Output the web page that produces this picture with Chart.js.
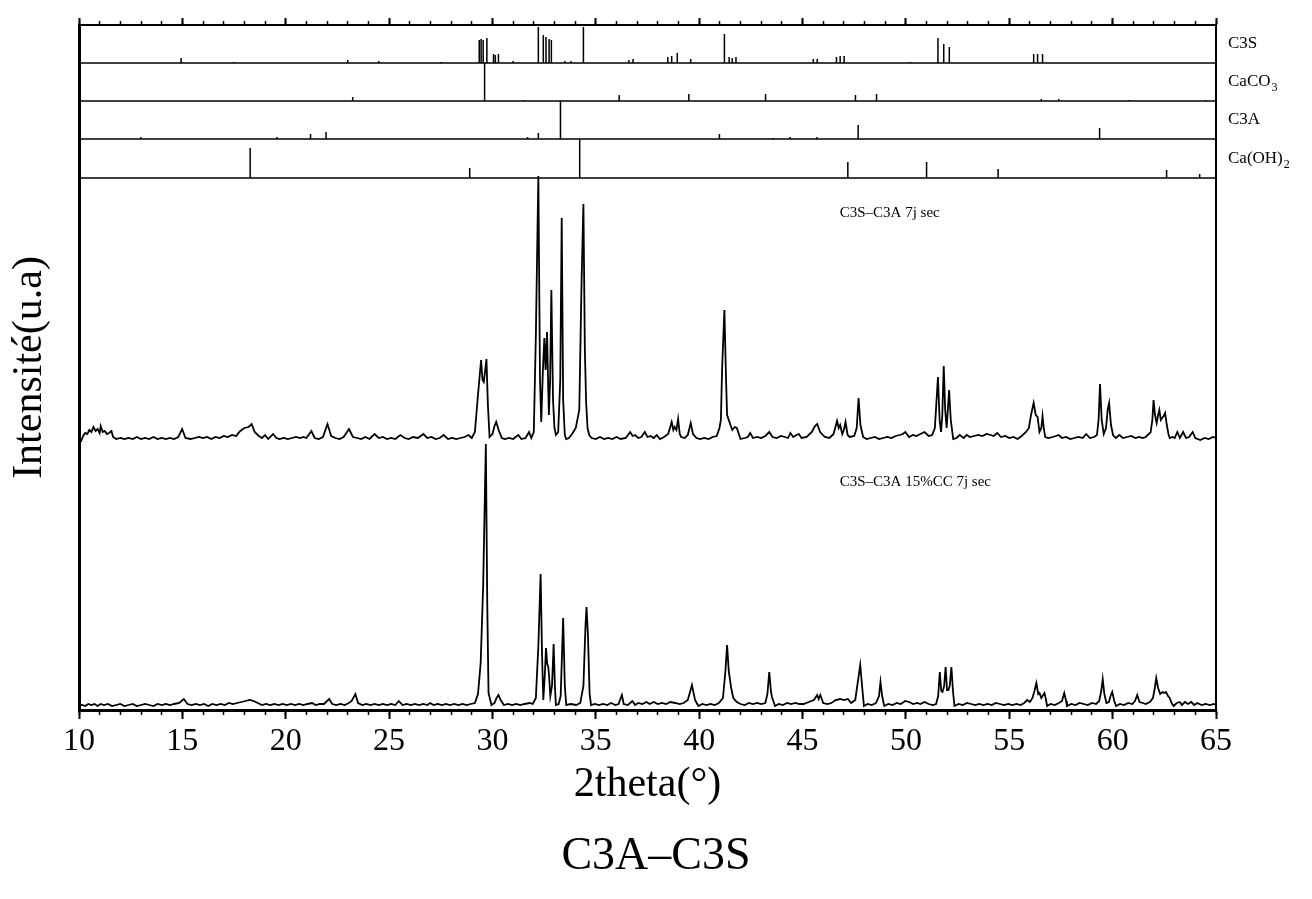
<!DOCTYPE html>
<html>
<head>
<meta charset="utf-8">
<title>C3A–C3S</title>
<script src="https://cdn.jsdelivr.net/npm/chart.js@4.4.1/dist/chart.umd.min.js"></script>
<style>
  html, body { margin: 0; padding: 0; background: #fff; }
  #wrap { width: 1312px; height: 899px; }
</style>
</head>
<body>
<div id="wrap"><canvas id="xrd" width="1312" height="899"></canvas></div>
<script>
// xrd.js -- diffractogrammes C3S-C3A (7j sec) avec fiches de reference

// 2theta range and tick steps
const thetaRange = [10, 65];
const majorStep = 5;
const minorStep = 1;

// C3S-C3A 7j sec (upper pattern), intensity above its own baseline
const topTheta = [
  10.0,10.1,10.2,10.3,10.4,10.5,10.6,10.7,10.8,10.9,
  11.0,11.05,11.15,11.25,11.35,11.45,11.57,11.65,11.8,12.0,
  12.2,12.4,12.6,12.8,13.0,13.2,13.4,13.6,13.8,14.0,
  14.2,14.4,14.6,14.8,14.99,15.15,15.4,15.6,15.8,16.0,
  16.2,16.4,16.6,16.8,17.0,17.2,17.4,17.6,17.8,18.0,
  18.2,18.35,18.5,18.7,18.85,19.0,19.15,19.39,19.55,19.7,
  19.9,20.1,20.3,20.5,20.7,20.85,21.0,21.24,21.4,21.6,
  21.8,22.02,22.2,22.4,22.6,22.8,23.06,23.25,23.45,23.65,
  23.85,24.05,24.3,24.5,24.7,24.9,25.1,25.3,25.54,25.75,
  25.95,26.15,26.4,26.66,26.85,27.05,27.25,27.45,27.64,27.85,
  28.05,28.25,28.45,28.65,28.84,29.0,29.15,29.3,29.45,29.52,
  29.58,29.65,29.71,29.78,29.86,30.0,30.1,30.18,30.3,30.45,
  30.6,30.8,31.0,31.25,31.4,31.6,31.77,31.88,32.0,32.1,
  32.22,32.3,32.36,32.44,32.51,32.57,32.64,32.7,32.73,32.79,
  32.85,32.93,33.0,33.07,33.18,33.28,33.35,33.42,33.5,33.57,
  33.7,33.85,34.03,34.2,34.31,34.4,34.47,34.53,34.6,34.68,
  34.8,35.0,35.2,35.4,35.6,35.8,36.0,36.2,36.45,36.66,
  36.78,36.9,37.05,37.2,37.37,37.5,37.65,37.8,37.95,38.1,
  38.3,38.5,38.67,38.75,38.81,38.9,38.98,39.06,39.13,39.3,
  39.45,39.59,39.7,39.87,40.05,40.25,40.45,40.65,40.85,40.98,
  41.05,41.11,41.22,41.3,41.35,41.48,41.6,41.72,41.82,42.0,
  42.2,42.35,42.47,42.6,42.8,43.0,43.2,43.39,43.55,43.75,
  43.95,44.15,44.3,44.41,44.55,44.7,44.82,44.95,45.2,45.45,
  45.6,45.71,45.85,46.08,46.3,46.5,46.67,46.75,46.82,46.92,
  47.0,47.08,47.18,47.28,47.5,47.62,47.71,47.8,47.93,48.1,
  48.3,48.5,48.7,48.9,49.1,49.3,49.5,49.7,49.85,49.97,
  50.15,50.34,50.5,50.7,50.9,51.1,51.27,51.4,51.55,51.63,
  51.7,51.76,51.83,51.9,51.97,52.09,52.17,52.29,52.45,52.6,
  52.8,52.94,53.1,53.3,53.5,53.7,53.9,54.1,54.25,54.42,
  54.6,54.8,55.0,55.2,55.4,55.6,55.81,55.95,56.05,56.18,
  56.28,56.37,56.46,56.55,56.61,56.68,56.74,56.9,57.1,57.25,
  57.39,57.55,57.75,57.95,58.15,58.35,58.55,58.72,58.9,59.1,
  59.24,59.32,59.39,59.47,59.57,59.68,59.76,59.83,59.92,60.02,
  60.15,60.32,60.5,60.7,60.9,61.1,61.28,61.45,61.6,61.75,
  61.84,61.92,61.98,62.05,62.13,62.2,62.26,62.33,62.39,62.47,
  62.54,62.62,62.7,62.76,62.9,63.0,63.13,63.25,63.41,63.55,
  63.7,63.87,64.0,64.24,64.45,64.65,64.85,65.0
];
const topInt = [
  0,-1,4,7,6,10,8,13,9,11,
  7,14,8,9,6,7,9,3,1,2,
  1,2,1,3,1,2,1,3,1,2,
  1,2,1,3,11,2,1,2,3,2,
  3,1,3,2,4,3,5,4,9,12,
  13,16,8,4,2,5,1,6,2,1,
  2,1,2,3,2,3,2,9,2,1,
  3,16,4,2,1,3,11,3,2,1,
  3,1,6,2,3,1,2,1,5,2,
  1,3,2,6,2,3,1,2,5,1,
  2,1,2,3,5,2,8,45,80,60,
  58,70,81,35,3,6,14,18,10,2,
  1,2,1,5,1,2,8,2,8,105,
  264,60,18,70,102,70,108,50,25,60,
  150,40,12,5,8,60,222,40,5,1,
  2,6,12,30,158,236,90,38,12,5,
  2,1,3,1,2,1,3,1,2,8,
  4,5,2,3,8,3,4,2,5,1,
  3,6,18,10,13,10,21,6,3,2,
  5,17,6,2,1,2,1,3,4,12,
  20,72,130,60,25,17,10,13,12,1,
  2,3,7,2,3,2,4,8,3,2,
  4,3,2,7,3,5,6,2,3,8,
  14,16,8,3,2,6,19,12,15,6,
  10,18,5,3,4,12,42,15,3,1,
  2,3,1,2,3,2,4,5,6,8,
  3,5,4,6,8,4,5,12,63,20,
  8,25,74,30,12,50,20,1,2,5,
  2,5,3,4,5,4,6,5,4,7,
  3,4,2,3,1,4,8,12,25,37,
  25,23,8,12,24,10,3,2,3,4,
  5,2,3,1,2,3,2,6,2,3,
  5,20,56,20,6,12,30,37,15,5,
  2,5,2,3,4,2,3,2,3,6,
  8,20,40,25,17,25,30,20,22,24,
  27,15,6,2,3,2,8,2,8,2,
  3,8,2,0,2,1,3,2
];

// C3S-C3A 15%CC 7j sec (lower pattern)
const botTheta = [
  10.0,10.15,10.3,10.45,10.6,10.75,10.9,11.05,11.2,11.4,
  11.6,11.8,12.0,12.2,12.4,12.6,12.8,13.0,13.2,13.4,
  13.6,13.8,14.0,14.2,14.4,14.6,14.85,15.07,15.25,15.45,
  15.65,15.85,16.05,16.25,16.45,16.65,16.85,17.05,17.25,17.45,
  17.65,17.85,18.05,18.25,18.45,18.65,18.85,19.05,19.25,19.45,
  19.65,19.85,20.05,20.25,20.45,20.65,20.85,21.05,21.28,21.45,
  21.65,21.85,22.1,22.25,22.45,22.65,22.85,23.05,23.19,23.37,
  23.5,23.7,23.9,24.1,24.3,24.5,24.7,24.9,25.1,25.3,
  25.47,25.65,25.85,26.05,26.25,26.45,26.65,26.85,26.99,27.15,
  27.35,27.55,27.75,27.95,28.15,28.35,28.55,28.75,28.95,29.15,
  29.3,29.43,29.55,29.68,29.75,29.81,29.95,30.1,30.2,30.29,
  30.4,30.55,30.75,30.95,31.15,31.35,31.55,31.8,31.95,32.1,
  32.22,32.33,32.4,32.46,32.53,32.59,32.65,32.7,32.74,32.8,
  32.88,32.96,33.02,33.07,33.2,33.3,33.42,33.5,33.57,33.8,
  34.05,34.25,34.4,34.5,34.55,34.62,34.7,34.77,34.95,35.15,
  35.35,35.55,35.75,35.95,36.1,36.26,36.35,36.55,36.77,36.9,
  37.05,37.25,37.45,37.6,37.8,38.0,38.2,38.4,38.6,38.85,
  39.05,39.25,39.45,39.65,39.8,39.96,40.15,40.35,40.55,40.75,
  40.95,41.15,41.27,41.35,41.43,41.54,41.65,41.82,42.0,42.2,
  42.4,42.6,42.8,43.0,43.2,43.3,43.39,43.47,43.52,43.67,
  43.85,44.05,44.25,44.45,44.65,44.85,45.05,45.3,45.55,45.71,
  45.78,45.86,46.0,46.2,46.4,46.6,46.82,47.0,47.19,47.35,
  47.55,47.68,47.79,47.88,47.97,48.15,48.35,48.55,48.7,48.77,
  48.85,48.95,49.15,49.35,49.55,49.75,49.97,50.15,50.35,50.55,
  50.7,50.9,51.1,51.3,51.46,51.56,51.64,51.71,51.77,51.85,
  51.92,51.99,52.05,52.12,52.2,52.28,52.35,52.55,52.75,52.95,
  53.15,53.35,53.55,53.75,53.95,54.15,54.35,54.55,54.75,54.95,
  55.15,55.35,55.55,55.72,55.87,56.0,56.12,56.22,56.31,56.4,
  56.46,56.55,56.7,56.76,56.83,57.0,57.2,57.4,57.55,57.66,
  57.75,57.79,58.0,58.2,58.4,58.6,58.8,59.0,59.2,59.35,
  59.45,59.52,59.6,59.7,59.82,59.9,59.98,60.08,60.17,60.35,
  60.55,60.75,60.95,61.08,61.19,61.3,61.46,61.6,61.8,61.95,
  62.04,62.11,62.2,62.3,62.42,62.5,62.58,62.68,62.76,62.85,
  62.95,63.1,63.25,63.35,63.5,63.65,63.8,63.95,64.1,64.3,
  64.5,64.7,64.9,65.0
];
const botInt = [
  0,1,0,2,1,2,0,2,1,2,
  0,1,2,0,1,2,0,1,2,1,
  0,2,1,2,1,2,3,7,2,1,
  2,1,2,0,2,1,2,1,3,2,
  3,4,5,6,5,3,1,2,1,2,
  1,2,1,2,1,2,1,2,3,1,
  2,2,7,2,1,2,1,3,5,12,
  3,1,2,1,2,1,2,1,2,1,
  5,1,2,1,2,1,2,1,3,1,
  2,1,2,1,2,1,2,1,2,3,
  12,43,120,262,100,13,1,3,8,11,
  6,1,2,1,2,1,2,3,2,8,
  60,132,50,6,30,58,42,39,30,10,
  20,62,20,1,2,10,88,20,1,2,
  1,3,20,80,99,70,12,1,2,1,
  2,1,3,1,2,11,2,1,5,1,
  3,2,4,2,4,2,3,2,4,3,
  2,3,6,21,6,0,2,1,2,1,
  3,8,35,61,35,19,8,4,2,1,
  3,2,3,2,3,12,34,15,9,0,
  2,1,3,2,3,2,2,4,6,11,
  7,11,3,2,3,6,7,6,7,3,
  6,25,41,20,0,2,1,3,10,24,
  10,0,2,1,3,2,5,4,2,3,
  2,4,2,1,2,10,34,15,14,20,
  39,16,16,20,39,14,0,2,1,3,
  2,1,2,1,2,1,3,2,1,2,
  1,2,1,3,6,4,8,15,23,12,
  13,8,13,8,0,2,1,3,5,13,
  5,0,2,1,3,2,1,3,2,5,
  15,27,12,3,4,10,14,5,0,2,
  1,3,2,5,11,4,3,2,4,8,
  18,28,18,12,14,13,14,10,8,3,
  0,3,4,1,4,2,4,1,3,1,
  2,1,2,1
];

// reference sticks (positions in 2theta, relative heights)
const c3sPos = [14.94,17.5,23.0,24.5,27.5,29.36,29.45,29.55,29.73,30.05,30.14,30.29,31.0,
  32.22,32.46,32.59,32.74,32.85,33.5,33.8,34.4,36.6,36.8,38.48,38.67,38.94,39.59,
  41.22,41.45,41.6,41.78,45.52,45.71,46.64,46.82,47.01,50.2,51.55,51.83,52.1,56.18,56.37,56.61];
const c3sInt = [5,1,3,2,1,23,24,23,25,9,8,9,2,
  36,28,26,24,23,2,2,36,3,4,6,7,10,4,
  29,6,5,6,4,4,6,7,7,1,25,19,16,9,9,9];
const caco3Pos = [23.24,29.62,31.5,36.13,39.5,43.21,47.56,48.58,56.55,57.39,60.8,64.5];
const caco3Int = [4,38,1,6,7,7,6,7,2,2,1,1];
const c3aPos = [12.99,19.57,21.2,21.95,31.7,32.22,33.29,40.98,43.58,44.4,45.7,47.69,59.37];
const c3aInt = [2,2,5,7,2,6,38,5,1,2,2,14,11];
const caoh2Pos = [18.28,28.9,34.22,47.19,51.0,54.46,62.61,64.21];
const caoh2Int = [30,10,39,16,16,9,8,4];

const phaseNames = ['C3S', 'CaCO', 'C3A', 'Ca(OH)'];
const phaseSubs = ['', '3', '', '2'];
const sampleNames = ['C3S–C3A 7j sec', 'C3S–C3A 15%CC 7j sec'];

// vertical layout of the stacked panels (in y-axis units)
const yTop = 685;
const topOffset = 270, botOffset = 4;
const stripeBase = [647, 609, 571, 532];
const sampleAt = [[46.8, 497], [46.8, 228]];

const serif = '"Liberation Serif", "Times New Roman", serif';

function curve(thetas, ints, offset) {
  return thetas.map((t, i) => ({ x: t, y: ints[i] + offset }));
}

function sticks(pos, ints, base) {
  const pts = [];
  pos.forEach((p, i) => {
    pts.push({ x: p, y: base }, { x: p, y: base + ints[i] }, { x: p, y: null });
  });
  return pts;
}

function flat(base) {
  return [{ x: thetaRange[0], y: base }, { x: thetaRange[1], y: base }];
}

const line = (data, width) => ({
  data, xAxisID: 'x', yAxisID: 'y',
  borderColor: '#000', borderWidth: width,
  pointRadius: 0, tension: 0, fill: false, spanGaps: false
});

const refSets = [[c3sPos, c3sInt], [caco3Pos, caco3Int], [c3aPos, c3aInt], [caoh2Pos, caoh2Int]];

const datasets = [
  line(curve(topTheta, topInt, topOffset), 1.8),
  line(curve(botTheta, botInt, botOffset), 1.8),
];
refSets.forEach(([p, h], i) => {
  datasets.push(line(flat(stripeBase[i]), 1.3));
  datasets.push(line(sticks(p, h, stripeBase[i]), 1.5));
});

const annotate = {
  id: 'annotate',
  afterDatasetsDraw(chart) {
    const { ctx, chartArea, scales: { x, y } } = chart;
    ctx.save();
    ctx.fillStyle = '#000';
    ctx.textBaseline = 'middle';
    ctx.textAlign = 'left';
    phaseNames.forEach((name, i) => {
      const yc = y.getPixelForValue(stripeBase[i] + 19);
      const xs = chartArea.right + 12;
      ctx.font = '17px ' + serif;
      ctx.fillText(name, xs, yc);
      if (phaseSubs[i]) {
        const w = ctx.measureText(name).width;
        ctx.font = '12px ' + serif;
        ctx.fillText(phaseSubs[i], xs + w + 1, yc + 6);
      }
    });
    ctx.font = '15px ' + serif;
    sampleNames.forEach((name, i) => {
      ctx.fillText(name, x.getPixelForValue(sampleAt[i][0]), y.getPixelForValue(sampleAt[i][1]));
    });
    ctx.restore();
  }
};

const tickAxis = (position, step, len, width, weight, height, extra) => Object.assign({
  type: 'linear', axis: 'x', position, weight,
  min: thetaRange[0], max: thetaRange[1],
  ticks: { display: false, stepSize: step, maxTicksLimit: 100 },
  grid: { drawOnChartArea: false, drawTicks: true, tickLength: len, tickWidth: width, tickColor: '#000', color: '#000' },
  border: { display: false },
  afterFit: s => { s.height = height; }
}, extra || {});

new Chart(document.getElementById('xrd'), {
  type: 'line',
  data: { datasets },
  plugins: [annotate],
  options: {
    responsive: false,
    devicePixelRatio: 1,
    animation: false,
    layout: { padding: 0 },
    plugins: {
      legend: { display: false },
      tooltip: { enabled: false },
      title: {
        display: true, position: 'bottom', text: 'C3A–C3S', color: '#000',
        font: { family: serif, size: 46, weight: 'normal' },
        padding: { top: 0, bottom: 14 }
      }
    },
    scales: {
      x: {
        type: 'linear', axis: 'x', position: 'bottom', weight: 1,
        min: thetaRange[0], max: thetaRange[1],
        ticks: {
          stepSize: majorStep, maxTicksLimit: 100, autoSkip: false, maxRotation: 0,
          color: '#000', padding: 3, font: { family: serif, size: 32 }
        },
        grid: { drawOnChartArea: false, tickLength: 9, tickWidth: 2, tickColor: '#000', color: '#000' },
        border: { color: '#000', width: 3 },
        title: {
          display: true, text: '2theta(°)', color: '#000',
          font: { family: serif, size: 42 }, padding: { top: 0, bottom: 20 }
        },
        afterFit: s => { s.height = 119.8; }
      },
      xMinor: tickAxis('bottom', minorStep, 5, 1.5, 0, 0),
      xTop: tickAxis('top', majorStep, 7, 2, 1, 25, { border: { color: '#000', width: 2 } }),
      xTopMinor: tickAxis('top', minorStep, 4, 1.5, 0, 0),
      y: {
        type: 'linear', position: 'left', min: 0, max: yTop,
        ticks: { display: false },
        grid: { drawOnChartArea: false, drawTicks: false },
        border: { color: '#000', width: 3 },
        title: {
          display: true, text: 'Intensité(u.a)', color: '#000',
          font: { family: serif, size: 42 }, padding: { top: 5, bottom: 0 }
        },
        afterFit: s => { s.width = 79; }
      },
      yRight: {
        type: 'linear', axis: 'y', position: 'right', min: 0, max: yTop,
        ticks: { display: false },
        grid: { drawOnChartArea: false, drawTicks: false },
        border: { color: '#000', width: 2 },
        afterFit: s => { s.width = 96; }
      }
    }
  }
});
</script>
</body>
</html>
